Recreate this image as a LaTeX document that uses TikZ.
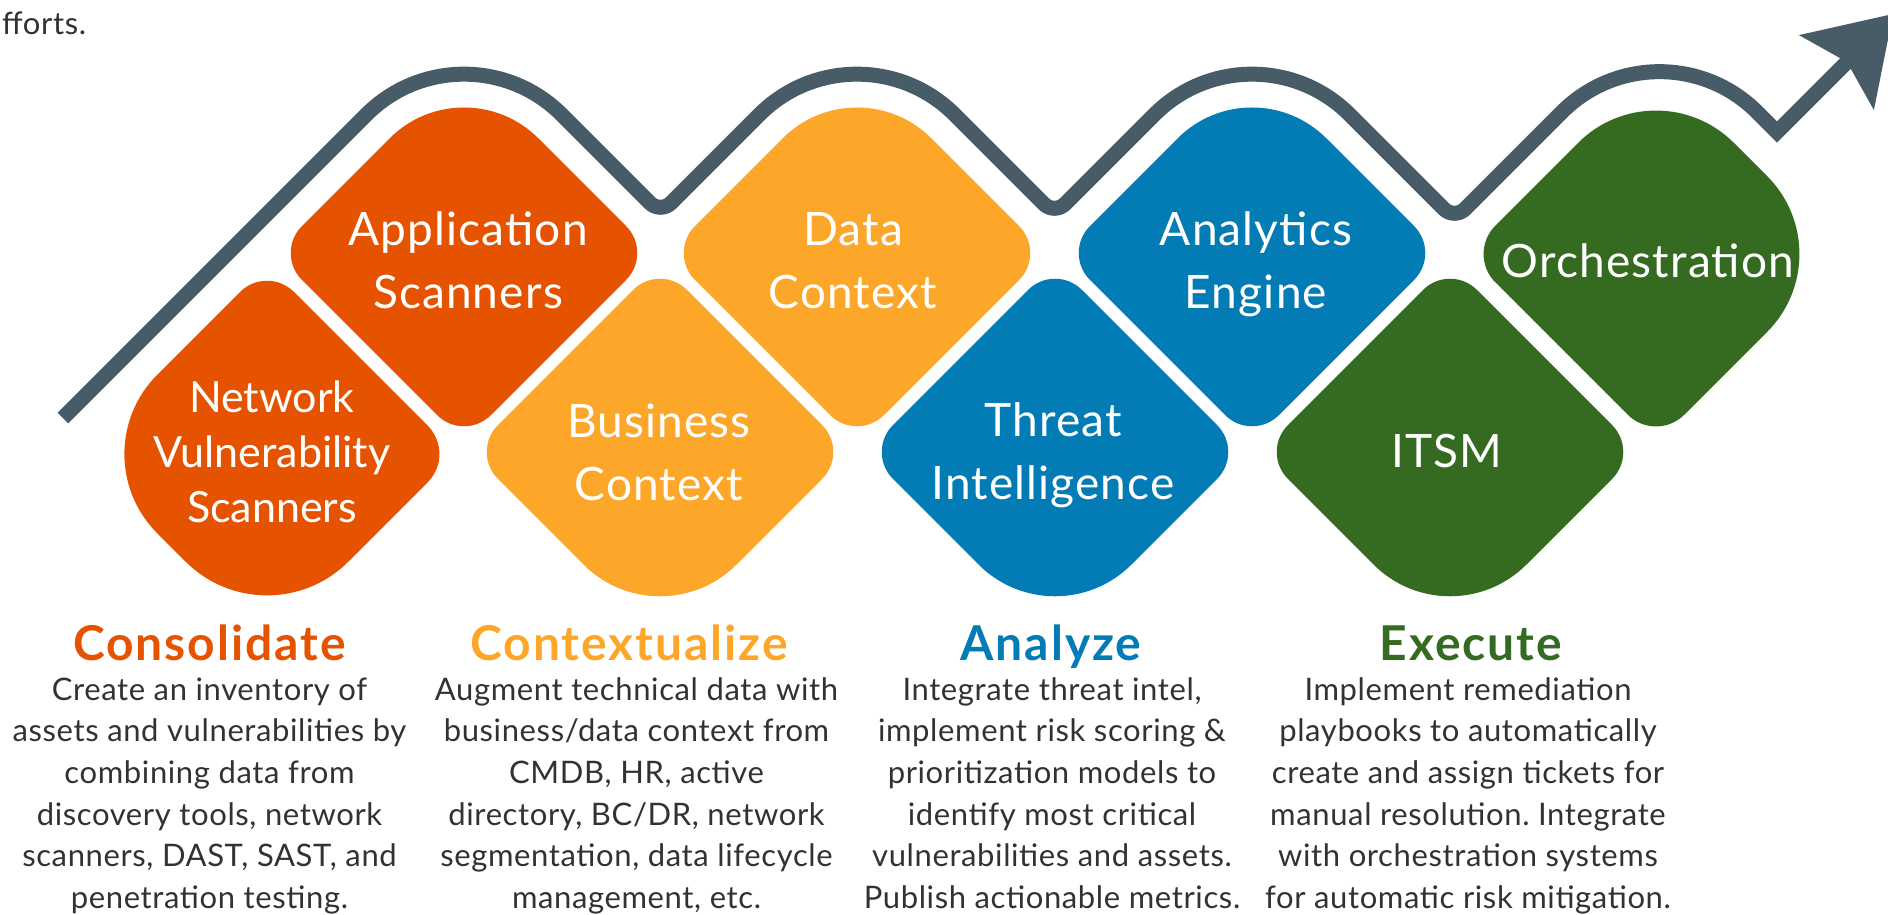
\documentclass[tikz,border=0pt]{standalone}
\usepackage{fontspec}
\setmainfont{Lato}
\frenchspacing
\definecolor{cOrange}{HTML}{E55300}
\definecolor{cAmber}{HTML}{FCA72A}
\definecolor{cBlue}{HTML}{037CB5}
\definecolor{cGreen}{HTML}{356A21}
\definecolor{cSlate}{HTML}{475C67}
\definecolor{cText}{HTML}{323232}

% half diagonal of every tile
\def\hd{189}
% rounded 45-degree tile: centre x, centre y, corner radii (top, right, bottom, left), colour
\newcommand\tile[7]{%
  \pgfmathsetmacro\aT{#3/sqrt(2)}%
  \pgfmathsetmacro\aR{#4/sqrt(2)}%
  \pgfmathsetmacro\aB{#5/sqrt(2)}%
  \pgfmathsetmacro\aL{#6/sqrt(2)}%
  \begin{scope}[shift={(#1,#2)}]
    \fill[#7] ({-\aT},{-\hd+\aT}) .. controls ({-0.4477*\aT},{-\hd+0.4477*\aT}) and ({0.4477*\aT},{-\hd+0.4477*\aT}) .. ({\aT},{-\hd+\aT})
      -- ({\hd-\aR},{-\aR}) .. controls ({\hd-0.4477*\aR},{-0.4477*\aR}) and ({\hd-0.4477*\aR},{0.4477*\aR}) .. ({\hd-\aR},{\aR})
      -- ({\aB},{\hd-\aB}) .. controls ({0.4477*\aB},{\hd-0.4477*\aB}) and ({-0.4477*\aB},{\hd-0.4477*\aB}) .. ({-\aB},{\hd-\aB})
      -- ({-\hd+\aL},{\aL}) .. controls ({-\hd+0.4477*\aL},{0.4477*\aL}) and ({-\hd+0.4477*\aL},{-0.4477*\aL}) .. ({-\hd+\aL},{-\aL})
      -- cycle;
  \end{scope}}
\newcommand\stack[2]{\parbox[t]{#1}{\centering #2}}

\tikzset{
  trend/.style={line width=15pt, draw=cSlate, line join=miter},
  tiletext/.style={text=white, anchor=base, inner sep=0pt, font=\fontsize{46}{63}\selectfont\addfontfeatures{LetterSpace=2.5}},
  smalltiletext/.style={tiletext, font=\fontsize{43}{55}\selectfont},
  headtext/.style={anchor=base, inner sep=0pt, font=\fontsize{48}{50}\selectfont\bfseries\addfontfeatures{LetterSpace=4}},
  bodytext/.style={text=cText, anchor=base, inner sep=0pt, font=\fontsize{31}{41.7}\selectfont\addfontfeatures{LetterSpace=2}},
}

\begin{document}
\begin{tikzpicture}[x=1pt, y=-1pt]
\useasboundingbox (0,0) rectangle (1888,915);
\clip (0,0) rectangle (1888,915);

% tail end of the sentence above
\node[bodytext, anchor=base west] (lead) at (2,35) {fforts.};

% rising trend line
\coordinate (t0) at (63,418);
\coordinate (p1) at (464,17);
\coordinate (v1) at (660.5,213.5);
\coordinate (p2) at (857,17);
\coordinate (v2) at (1054.5,214.5);
\coordinate (p3) at (1252,17);
\coordinate (v3) at (1454.5,219.5);
\coordinate (p4) at (1659.5,14.5);
\coordinate (vk) at (1777,132);
\coordinate (se) at (1857.6,51.4);
\coordinate (tip) at (1893,14);
\coordinate (hc1) at (1798.9,35.1);
\coordinate (hin) at (1847.0,62.0);
\coordinate (hc2) at (1873.9,110.1);
\draw[trend] (t0) [rounded corners=138pt] -- (p1) [rounded corners=15pt] -- (v1)
  [rounded corners=138pt] -- (p2) [rounded corners=15pt] -- (v2) [rounded corners=138pt] -- (p3)
  [rounded corners=15pt] -- (v3) [rounded corners=138pt] -- (p4) [sharp corners] -- (vk) -- (se);
\fill[cSlate] (tip) -- (hc1) -- (hin) -- (hc2) -- cycle;

% tiles, lower row
\tile{267}{454}{38}{40}{115}{112}{cOrange}
\tile{660}{452}{38}{38}{108}{38}{cAmber}
\tile{1055}{452}{38}{38}{108}{38}{cBlue}
\tile{1450}{452}{38}{38}{108}{38}{cGreen}
% tiles, upper row
\tile{464}{253}{105}{38}{38}{38}{cOrange}
\tile{857}{253}{105}{38}{38}{38}{cAmber}
\tile{1252}{253}{105}{38}{38}{38}{cBlue}
\tile{1656}{254}{110}{110}{40}{40}{cGreen}

% tile labels
\node[smalltiletext] (nvs) at (272,412) {\stack{320pt}{Network\\Vulnerability\\Scanners}};
\node[tiletext] (app) at (468,245) {\stack{340pt}{Application\\Scanners}};
\node[tiletext] (bus) at (659,437) {\stack{340pt}{Business\\Context}};
\node[tiletext] (dat) at (853,245) {\stack{340pt}{Data\\Context}};
\node[tiletext] (thr) at (1053,436) {\stack{340pt}{Threat\\Intelligence}};
\node[tiletext] (ana) at (1256,245) {\stack{340pt}{Analytics\\Engine}};
\node[tiletext] (itsm) at (1447,467) {ITSM};
\node[tiletext] (orc) at (1648,277) {Orchestration};

% phase headings
\node[headtext, text=cOrange] (h1) at (209.5,660) {Consolidate};
\node[headtext, text=cAmber] (h2) at (629,660) {Contextualize};
\node[headtext, text=cBlue] (h3) at (1051,660) {Analyze};
\node[headtext, text=cGreen] (h4) at (1471,660) {Execute};

% phase descriptions
\node[bodytext] (b1) at (209.5,700) {\stack{450pt}{Create an inventory of\\assets and vulnerabilities by\\combining data from\\discovery tools, network\\scanners, DAST, SAST, and\\penetration testing.}};
\node[bodytext] (b2) at (636.5,700) {\stack{450pt}{Augment technical data with\\business/data context from\\CMDB, HR, active\\directory, BC/DR, network\\segmentation, data lifecycle\\management, etc.}};
\node[bodytext] (b3) at (1052,700) {\stack{450pt}{Integrate threat intel,\\implement risk scoring \&\\prioritization models to\\identify most critical\\vulnerabilities and assets.\\Publish actionable metrics.}};
\node[bodytext] (b4) at (1468,700) {\stack{450pt}{Implement remediation\\playbooks to automatically\\create and assign tickets for\\manual resolution. Integrate\\with orchestration systems\\for automatic risk mitigation.}};
\end{tikzpicture}
\end{document}
